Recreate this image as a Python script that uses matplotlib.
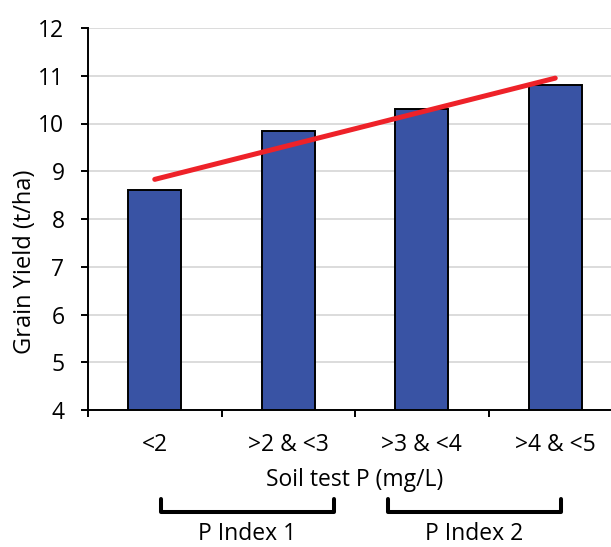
import matplotlib
matplotlib.use("Agg")
import matplotlib.pyplot as plt
from matplotlib.lines import Line2D

categories = ["<2", ">2 & <3", ">3 & <4", ">4 & <5"]
yield_values = [8.6, 9.85, 10.3, 10.8]
trend_values = [8.83, 10.95]          # trendline ends (first and last category)
y_ticks = [4, 5, 6, 7, 8, 9, 10, 11, 12]
group_labels = ["P Index 1", "P Index 2"]

plt.rcParams['font.family'] = ['Open Sans', 'DejaVu Sans']
FS = 16.5

fig = plt.figure(figsize=(6.11, 5.47), dpi=100)
ax = fig.add_axes([88/611, 137/547, 534/611, 382/547])

x = list(range(len(categories)))
ax.bar(x, [v - 4 for v in yield_values], bottom=4, width=0.4,
       color="#3953A4", edgecolor="black", linewidth=1.4, zorder=3)
ax.plot([x[0], x[-1]], trend_values, color="#EE2229", linewidth=3.6,
        solid_capstyle="round", zorder=4)

ax.set_xlim(-0.5, 3.5)
ax.set_ylim(4, 12)
ax.set_yticks(y_ticks)
ax.yaxis.grid(True, color="#dcdcdc", linewidth=1.4, zorder=0)
ax.set_axisbelow(True)

ax.set_xticks(x)
ax.set_xticklabels(categories, fontsize=FS)
ax.set_xticks([-0.5, 0.5, 1.5, 2.5, 3.5], minor=True)
ax.tick_params(axis="x", which="major", length=0, pad=16.3)
ax.tick_params(axis="x", which="minor", length=5, width=1.4, direction="out")
ax.tick_params(axis="y", length=5, width=1.4, direction="out", labelsize=FS, pad=12)

for s in ["top", "right"]:
    ax.spines[s].set_visible(False)
for s in ["left", "bottom"]:
    ax.spines[s].set_linewidth(1.4)

ax.set_xlabel("Soil test P (mg/L)", fontsize=FS)
ax.xaxis.set_label_coords(0.5, -0.151)
ax.set_ylabel("Grain Yield (t/ha)", fontsize=FS + 0.5)
ax.yaxis.set_label_coords(-0.0964, 0.387)

tr = ax.get_xaxis_transform()
brackets = [(0.047, 1.343), (1.744, 3.043)]
for (x0, x1), lab in zip(brackets, group_labels):
    ln = Line2D([x0, x0, x1, x1], [-0.233, -0.268, -0.268, -0.233], transform=tr,
                color="black", linewidth=2.9, solid_joinstyle="round",
                solid_capstyle="round", clip_on=False)
    ax.add_line(ln)
    ax.text((x0 + x1) / 2, -0.356, lab, transform=tr, ha="center", va="bottom",
            fontsize=FS)

fig.savefig("out.png", dpi=100)
